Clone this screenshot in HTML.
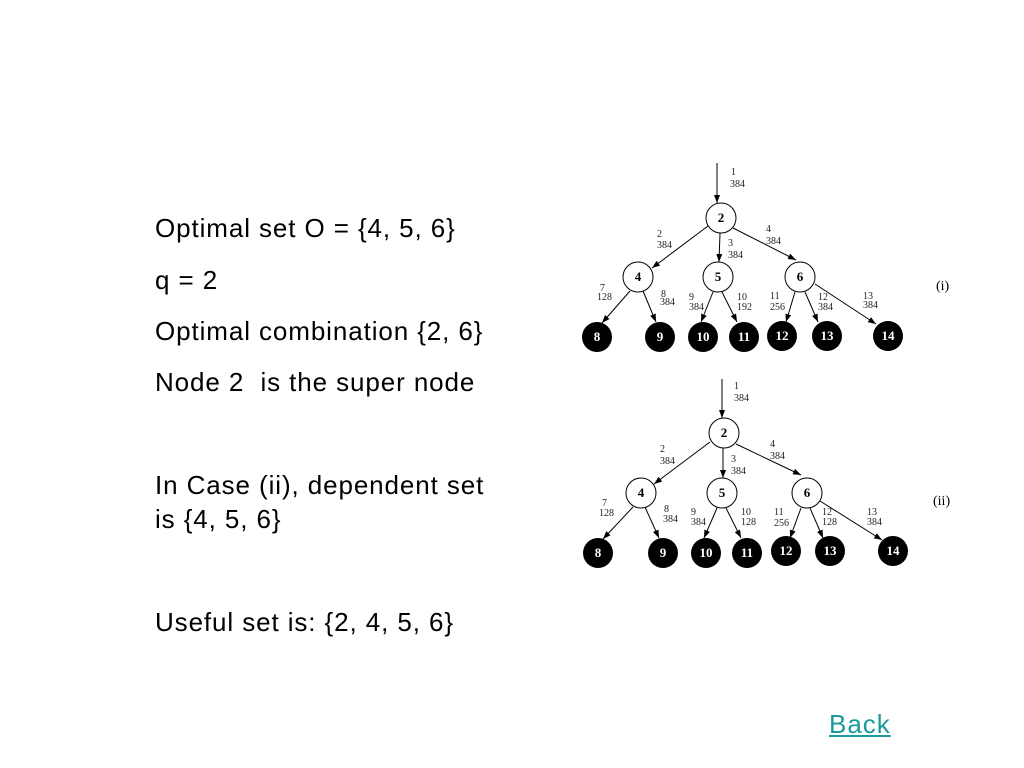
<!DOCTYPE html>
<html><head><meta charset="utf-8"><style>
body{margin:0;background:#fff;width:1024px;height:768px;overflow:hidden;position:relative;font-family:"Liberation Sans",Arial,sans-serif}
.t{position:absolute;left:155px;font-size:26px;letter-spacing:0.9px;color:#000;white-space:nowrap;line-height:1}
a{position:absolute;left:829px;top:709px;font-size:26px;letter-spacing:1px;color:#1a9a9a;text-decoration:underline}
svg{position:absolute;left:0;top:0}
svg text{font-family:"Liberation Serif",serif}
.l{font-size:10px;fill:#222}
.n{font-size:13px;font-weight:bold;text-anchor:middle}
.w{fill:#fff}
</style></head><body>
<div class="t" style="top:215px">Optimal set O = {4, 5, 6}</div>
<div class="t" style="top:267px">q = 2</div>
<div class="t" style="top:318px">Optimal combination {2, 6}</div>
<div class="t" style="top:369px">Node 2&nbsp; is the super node</div>
<div class="t" style="top:472px">In Case (ii), dependent set</div>
<div class="t" style="top:506px">is {4, 5, 6}</div>
<div class="t" style="top:609px">Useful set is: {2, 4, 5, 6}</div>
<a>Back</a>
<svg width="1024" height="768">
<defs><marker id="m" markerWidth="8" markerHeight="6" refX="8" refY="3" orient="auto" markerUnits="userSpaceOnUse"><path d="M0,0 L8,3 L0,6z" fill="#000"/></marker></defs>
<g stroke="#000" stroke-width="1" fill="none" marker-end="url(#m)">
<line x1="717" y1="163" x2="717" y2="203"/>
<line x1="708" y1="226" x2="652" y2="268"/>
<line x1="720" y1="233" x2="719" y2="262"/>
<line x1="733" y1="228" x2="796" y2="260"/>
<line x1="630" y1="291" x2="602" y2="323"/>
<line x1="643" y1="291" x2="656" y2="322"/>
<line x1="713" y1="292" x2="701" y2="322"/>
<line x1="722" y1="292" x2="737" y2="322"/>
<line x1="795" y1="292" x2="786" y2="322"/>
<line x1="805" y1="292" x2="818" y2="322"/>
<line x1="815" y1="284" x2="876" y2="324"/>
<line x1="722" y1="379" x2="722" y2="418"/>
<line x1="710" y1="442" x2="654" y2="484"/>
<line x1="723" y1="448" x2="723" y2="478"/>
<line x1="736" y1="444" x2="801" y2="475"/>
<line x1="633" y1="507" x2="603" y2="539"/>
<line x1="645" y1="507" x2="659" y2="538"/>
<line x1="717" y1="508" x2="704" y2="538"/>
<line x1="726" y1="508" x2="741" y2="538"/>
<line x1="801" y1="508" x2="790" y2="538"/>
<line x1="810" y1="508" x2="823" y2="538"/>
<line x1="820" y1="501" x2="882" y2="540"/>
</g>
<g stroke="#000" fill="#fff">
<circle cx="721" cy="218" r="15"/><circle cx="638" cy="277" r="15"/><circle cx="718" cy="277" r="15"/><circle cx="800" cy="277" r="15"/>
<circle cx="724" cy="433" r="15"/><circle cx="641" cy="493" r="15"/><circle cx="722" cy="493" r="15"/><circle cx="807" cy="493" r="15"/>
</g>
<g fill="#000">
<circle cx="597" cy="337" r="15"/><circle cx="660" cy="337" r="15"/><circle cx="703" cy="337" r="15"/><circle cx="744" cy="337" r="15"/><circle cx="782" cy="336" r="15"/><circle cx="827" cy="336" r="15"/><circle cx="888" cy="336" r="15"/>
<circle cx="598" cy="553" r="15"/><circle cx="663" cy="553" r="15"/><circle cx="706" cy="553" r="15"/><circle cx="747" cy="553" r="15"/><circle cx="786" cy="551" r="15"/><circle cx="830" cy="551" r="15"/><circle cx="893" cy="551" r="15"/>
</g>
<g class="n">
<text x="721" y="222">2</text><text x="638" y="281">4</text><text x="718" y="281">5</text><text x="800" y="281">6</text>
<text x="724" y="437">2</text><text x="641" y="497">4</text><text x="722" y="497">5</text><text x="807" y="497">6</text>
</g>
<g class="n w">
<text x="597" y="341">8</text><text x="660" y="341">9</text><text x="703" y="341">10</text><text x="744" y="341">11</text><text x="782" y="340">12</text><text x="827" y="340">13</text><text x="888" y="340">14</text>
<text x="598" y="557">8</text><text x="663" y="557">9</text><text x="706" y="557">10</text><text x="747" y="557">11</text><text x="786" y="555">12</text><text x="830" y="555">13</text><text x="893" y="555">14</text>
</g>
<g class="l">
<text x="731" y="175">1</text><text x="730" y="187">384</text>
<text x="657" y="237">2</text><text x="657" y="248">384</text>
<text x="728" y="246">3</text><text x="728" y="258">384</text>
<text x="766" y="232">4</text><text x="766" y="244">384</text>
<text x="600" y="291">7</text><text x="597" y="300">128</text>
<text x="661" y="297">8</text><text x="660" y="305">384</text>
<text x="689" y="300">9</text><text x="689" y="310">384</text>
<text x="737" y="300">10</text><text x="737" y="310">192</text>
<text x="770" y="299">11</text><text x="770" y="310">256</text>
<text x="818" y="300">12</text><text x="818" y="310">384</text>
<text x="863" y="299">13</text><text x="863" y="308">384</text>
<text x="734" y="389">1</text><text x="734" y="401">384</text>
<text x="660" y="452">2</text><text x="660" y="464">384</text>
<text x="731" y="462">3</text><text x="731" y="474">384</text>
<text x="770" y="447">4</text><text x="770" y="459">384</text>
<text x="602" y="506">7</text><text x="599" y="516">128</text>
<text x="664" y="512">8</text><text x="663" y="522">384</text>
<text x="691" y="515">9</text><text x="691" y="525">384</text>
<text x="741" y="515">10</text><text x="741" y="525">128</text>
<text x="774" y="515">11</text><text x="774" y="526">256</text>
<text x="822" y="515">12</text><text x="822" y="525">128</text>
<text x="867" y="515">13</text><text x="867" y="525">384</text>
</g>
<text x="936" y="290" font-size="14">(i)</text>
<text x="933" y="505" font-size="14">(ii)</text>
</svg>
</body></html>
